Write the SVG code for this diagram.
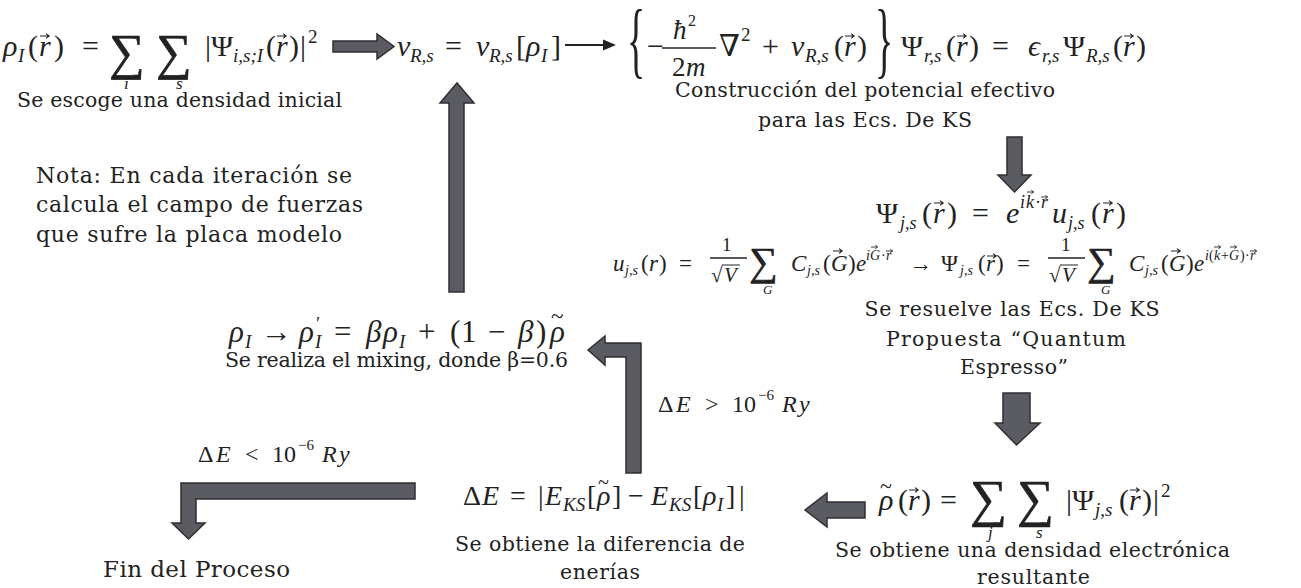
<svg xmlns="http://www.w3.org/2000/svg" xmlns:xlink="http://www.w3.org/1999/xlink" width="1301" height="588" viewBox="0 0 1301 588">
<style>
.m{font-family:"Liberation Serif","DejaVu Serif",serif;fill:#222;font-size:30px}
.i{font-style:italic}
.s{font-size:19px}
.sum{stroke:#222;stroke-width:0.6}
.t{font-family:"DejaVu Serif",serif;fill:#222;font-size:20.5px}
.arw{fill:#5b5b62;stroke:#2f2f34;stroke-width:1.5;stroke-linejoin:miter}
.thin{stroke:#222;stroke-width:2;fill:none}
.bar{stroke:#222;stroke-width:1.3}
</style>
<defs>
<path id="va" d="M0 0h9M6 -2.4L9.2 0L6 2.4" fill="none" stroke="#222" stroke-width="1.1"/>
<path id="vs" d="M0 0h6.5M4.3 -1.8L6.7 0L4.3 1.8" fill="none" stroke="#222" stroke-width="0.9"/>
</defs>
<rect width="1301" height="588" fill="#fff"/>

<g id="n-initial-density">
<text class="m">
<tspan class="i" x="3" y="56">ρ</tspan><tspan class="i s" x="18" y="62">I</tspan>
<tspan x="28" y="56">(</tspan><tspan class="i" x="39" y="56">r</tspan><tspan x="54" y="56">)</tspan>
<tspan x="82" y="56">=</tspan>
<tspan class="sum" x="109" y="69" style="font-size:50px">∑</tspan><tspan class="i" x="124" y="89" style="font-size:17px">i</tspan>
<tspan class="sum" x="156" y="69" style="font-size:50px">∑</tspan><tspan class="i" x="176" y="89" style="font-size:17px">s</tspan>
<tspan x="205" y="56">|</tspan><tspan x="211" y="56">Ψ</tspan><tspan class="i s" x="233" y="62">i,s;I</tspan>
<tspan x="266" y="56">(</tspan><tspan class="i" x="276" y="56">r</tspan><tspan x="289" y="56">)</tspan><tspan x="300" y="56">|</tspan><tspan class="s" x="308" y="43">2</tspan>
</text>
<use xlink:href="#va" x="40" y="36"/><use xlink:href="#va" x="277" y="36"/>
<text class="t" x="17" y="107" textLength="325">Se escoge una densidad inicial</text>
</g>

<g id="n-potential">
<text class="m">
<tspan class="i" x="397" y="56">v</tspan><tspan class="i s" x="410" y="62">R,s</tspan>
<tspan x="445" y="56">=</tspan>
<tspan class="i" x="476" y="56">v</tspan><tspan class="i s" x="489" y="62">R,s</tspan>
<tspan x="516" y="56">[</tspan><tspan class="i" x="526" y="56">ρ</tspan><tspan class="i s" x="541" y="62">I</tspan><tspan x="551" y="56">]</tspan>
</text>
</g>

<g id="n-ks-equation">
<text class="m" transform="translate(627,68) scale(1,2.2)" style="font-size:38px">{</text>
<text class="m">
<tspan x="647" y="56">−</tspan>
<tspan class="i" x="673" y="39" style="font-size:27px">ħ</tspan><tspan x="688" y="26" style="font-size:16px">2</tspan>
<tspan x="672" y="76" style="font-size:27px">2</tspan><tspan class="i" x="686" y="76" style="font-size:27px">m</tspan>
<tspan x="719" y="56">∇</tspan><tspan class="s" x="741" y="41">2</tspan>
<tspan x="762" y="56">+</tspan>
<tspan class="i" x="791" y="56">v</tspan><tspan class="i s" x="805" y="62">R,s</tspan>
<tspan x="834" y="56">(</tspan><tspan class="i" x="844" y="56">r</tspan><tspan x="857" y="56">)</tspan>
<tspan x="901" y="56">Ψ</tspan><tspan class="i s" x="924" y="62">r,s</tspan>
<tspan x="946" y="56">(</tspan><tspan class="i" x="956" y="56">r</tspan><tspan x="969" y="56">)</tspan>
<tspan x="992" y="56">=</tspan>
<tspan class="i" x="1028" y="56">ϵ</tspan><tspan class="i s" x="1042" y="62">r,s</tspan>
<tspan x="1063" y="56">Ψ</tspan><tspan class="i s" x="1086" y="62">R,s</tspan>
<tspan x="1113" y="56">(</tspan><tspan class="i" x="1123" y="56">r</tspan><tspan x="1136" y="56">)</tspan>
</text>
<line class="bar" x1="662" y1="48" x2="716" y2="48"/>
<text class="m" transform="translate(875,68) scale(1,2.2)" style="font-size:38px">}</text>
<use xlink:href="#va" x="845" y="36"/><use xlink:href="#va" x="957" y="36"/><use xlink:href="#va" x="1124" y="36"/>
<text class="t" x="675" y="97" textLength="380">Construcción del potencial efectivo</text>
<text class="t" x="758" y="127" textLength="214">para las Ecs. De KS</text>
</g>

<g id="n-note">
<text class="t" style="font-size:22px" x="36" y="183" textLength="316">Nota: En cada iteración se</text>
<text class="t" style="font-size:22px" x="36" y="212" textLength="327">calcula el campo de fuerzas</text>
<text class="t" style="font-size:22px" x="36" y="242" textLength="306">que sufre la placa modelo</text>
</g>

<g id="n-solve-ks">
<text class="m">
<tspan x="876" y="223">Ψ</tspan><tspan class="i" x="900" y="229" style="font-size:18px">j,s</tspan>
<tspan x="922" y="223">(</tspan><tspan class="i" x="933" y="223">r</tspan><tspan x="947" y="223">)</tspan>
<tspan x="972" y="223">=</tspan>
<tspan class="i" x="1006" y="223">e</tspan>
<tspan class="i" x="1020" y="208" style="font-size:18px">i</tspan><tspan class="i" x="1026" y="208" style="font-size:18px">k</tspan><tspan x="1035" y="208" style="font-size:18px">·</tspan><tspan class="i" x="1041" y="208" style="font-size:18px">r</tspan>
<tspan class="i" x="1052" y="223">u</tspan><tspan class="i" x="1068" y="229" style="font-size:18px">j,s</tspan>
<tspan x="1091" y="223">(</tspan><tspan class="i" x="1102" y="223">r</tspan><tspan x="1116" y="223">)</tspan>
</text>
<use xlink:href="#vs" x="1027" y="192"/><use xlink:href="#vs" x="1041" y="197"/>
<use xlink:href="#va" x="934" y="203"/><use xlink:href="#va" x="1103" y="203"/>
<text class="m" style="font-size:23px">
<tspan class="i" x="613" y="271">u</tspan><tspan class="i" x="625" y="275" style="font-size:14px">j,s</tspan>
<tspan x="641" y="271">(</tspan><tspan class="i" x="649" y="271">r</tspan><tspan x="659" y="271">)</tspan>
<tspan x="679" y="271">=</tspan>
<tspan x="722" y="251" style="font-size:19px">1</tspan>
<tspan x="711" y="282" style="font-size:21px">√</tspan><tspan class="i" x="724" y="282" style="font-size:21px">V</tspan>
<tspan class="sum" x="749" y="275" style="font-size:40px">∑</tspan><tspan class="i" x="763" y="294" style="font-size:13px">G</tspan>
<tspan class="i" x="791" y="271">C</tspan><tspan class="i" x="807" y="275" style="font-size:14px">j,s</tspan>
<tspan x="823" y="271">(</tspan><tspan class="i" x="831" y="271">G</tspan><tspan x="848" y="271">)</tspan>
<tspan class="i" x="856" y="271">e</tspan>
<tspan class="i" x="866" y="260" style="font-size:14px">i</tspan><tspan class="i" x="870" y="260" style="font-size:14px">G</tspan><tspan x="881" y="260" style="font-size:14px">·</tspan><tspan class="i" x="886" y="260" style="font-size:14px">r</tspan>
<tspan x="909" y="271">→</tspan>
<tspan x="941" y="271">Ψ</tspan><tspan class="i" x="960" y="275" style="font-size:14px">j,s</tspan>
<tspan x="978" y="271">(</tspan><tspan class="i" x="986" y="271">r</tspan><tspan x="996" y="271">)</tspan>
<tspan x="1017" y="271">=</tspan>
<tspan x="1061" y="251" style="font-size:19px">1</tspan>
<tspan x="1049" y="282" style="font-size:21px">√</tspan><tspan class="i" x="1062" y="282" style="font-size:21px">V</tspan>
<tspan class="sum" x="1087" y="275" style="font-size:40px">∑</tspan><tspan class="i" x="1101" y="294" style="font-size:13px">G</tspan>
<tspan class="i" x="1129" y="271">C</tspan><tspan class="i" x="1145" y="275" style="font-size:14px">j,s</tspan>
<tspan x="1161" y="271">(</tspan><tspan class="i" x="1169" y="271">G</tspan><tspan x="1186" y="271">)</tspan>
<tspan class="i" x="1194" y="271">e</tspan>
<tspan class="i" x="1205" y="260" style="font-size:14px">i</tspan><tspan x="1209" y="260" style="font-size:14px">(</tspan><tspan class="i" x="1214" y="260" style="font-size:14px">k</tspan><tspan x="1221" y="260" style="font-size:14px">+</tspan><tspan class="i" x="1229" y="260" style="font-size:14px">G</tspan><tspan x="1240" y="260" style="font-size:14px">)</tspan><tspan x="1245" y="260" style="font-size:14px">·</tspan><tspan class="i" x="1250" y="260" style="font-size:14px">r</tspan>
</text>
<line class="bar" x1="710" y1="258" x2="747" y2="258"/>
<line class="bar" x1="1048" y1="258" x2="1085" y2="258"/>
<line class="bar" x1="722" y1="265" x2="740" y2="265" style="stroke-width:1"/>
<line class="bar" x1="1060" y1="265" x2="1078" y2="265" style="stroke-width:1"/>
<use xlink:href="#vs" x="764" y="282"/><use xlink:href="#va" x="833" y="251"/><use xlink:href="#vs" x="871" y="247"/><use xlink:href="#vs" x="886" y="251"/>
<use xlink:href="#va" x="987" y="256"/>
<use xlink:href="#vs" x="1102" y="282"/><use xlink:href="#va" x="1171" y="251"/><use xlink:href="#vs" x="1214" y="247"/><use xlink:href="#vs" x="1230" y="247"/><use xlink:href="#vs" x="1250" y="251"/>
<text class="t" x="1012" y="316" text-anchor="middle" textLength="295">Se resuelve las Ecs. De KS</text>
<text class="t" x="1006" y="346" text-anchor="middle" textLength="240">Propuesta “Quantum</text>
<text class="t" x="1014" y="374" text-anchor="middle" textLength="108">Espresso”</text>
</g>

<g id="n-new-density">
<text class="m">
<tspan class="i" x="879" y="510">ρ</tspan><tspan x="880" y="493" style="font-size:22px">~</tspan>
<tspan x="898" y="510">(</tspan><tspan class="i" x="908" y="510">r</tspan><tspan x="921" y="510">)</tspan>
<tspan x="940" y="510">=</tspan>
<tspan class="sum" x="970" y="516" style="font-size:52px">∑</tspan><tspan class="i" x="988" y="538" style="font-size:17px">j</tspan>
<tspan class="sum" x="1017" y="516" style="font-size:52px">∑</tspan><tspan class="i" x="1036" y="538" style="font-size:17px">s</tspan>
<tspan x="1066" y="510">|</tspan><tspan x="1072" y="510">Ψ</tspan><tspan class="i s" x="1095" y="516">j,s</tspan>
<tspan x="1119" y="510">(</tspan><tspan class="i" x="1129" y="510">r</tspan><tspan x="1142" y="510">)</tspan><tspan x="1153" y="510">|</tspan><tspan class="s" x="1161" y="497">2</tspan>
</text>
<use xlink:href="#va" x="909" y="490"/><use xlink:href="#va" x="1130" y="490"/>
<text class="t" x="835" y="557" textLength="395">Se obtiene una densidad electrónica</text>
<text class="t" x="977" y="584" textLength="113">resultante</text>
</g>

<g id="n-energy-diff">
<text class="m" style="font-size:28px">
<tspan x="463" y="505">Δ</tspan><tspan class="i" x="482" y="505">E</tspan>
<tspan x="510" y="505">=</tspan>
<tspan x="538" y="505">|</tspan><tspan class="i" x="545" y="505">E</tspan><tspan class="i" x="563" y="511" style="font-size:19px">KS</tspan>
<tspan x="587" y="505">[</tspan><tspan class="i" x="597" y="505">ρ</tspan><tspan x="598" y="489" style="font-size:20px">~</tspan><tspan x="612" y="505">]</tspan>
<tspan x="628" y="505">−</tspan>
<tspan class="i" x="651" y="505">E</tspan><tspan class="i" x="669" y="511" style="font-size:19px">KS</tspan>
<tspan x="693" y="505">[</tspan><tspan class="i" x="703" y="505">ρ</tspan><tspan class="i s" x="717" y="511">I</tspan><tspan x="726" y="505">]</tspan><tspan x="739" y="505">|</tspan>
</text>
<text class="t" x="455" y="551" textLength="290">Se obtiene la diferencia de</text>
<text class="t" x="560" y="579" textLength="80">enerías</text>
</g>

<g id="n-mixing">
<text class="m" style="font-size:31px">
<tspan class="i" x="229" y="342">ρ</tspan><tspan class="i s" x="245" y="348">I</tspan>
<tspan x="261" y="342">→</tspan>
<tspan class="i" x="299" y="342">ρ</tspan><tspan class="s" x="316" y="330">′</tspan><tspan class="i s" x="315" y="348">I</tspan>
<tspan x="334" y="342">=</tspan>
<tspan class="i" x="366" y="342">β</tspan><tspan class="i" x="383" y="342">ρ</tspan><tspan class="i s" x="399" y="348">I</tspan>
<tspan x="418" y="342">+</tspan>
<tspan x="450" y="342">(</tspan><tspan x="461" y="342">1</tspan>
<tspan x="488" y="342">−</tspan>
<tspan class="i" x="518" y="342">β</tspan><tspan x="536" y="342">)</tspan>
<tspan class="i" x="550" y="342">ρ</tspan><tspan x="551" y="324" style="font-size:23px">~</tspan>
</text>
<text class="t" x="225" y="367" textLength="343">Se realiza el mixing, donde β=0.6</text>
</g>

<g id="n-end">
<text class="t" style="font-size:23px" x="103" y="577" textLength="187">Fin del Proceso</text>
</g>

<g id="connectors">
<polygon class="arw" points="333,41 377,41 377,34 394,46.5 377,59 377,52 333,52"/>
<line class="thin" x1="565" y1="45" x2="605" y2="45"/>
<polygon points="616,45 603,39.5 603,50.5" fill="#222"/>
<polygon class="arw" points="1007,137 1022,137 1022,175 1031,175 1014.5,192 998,175 1007,175"/>
<polygon class="arw" points="1003,393 1030,393 1030,423 1040,423 1016.5,445 995,423 1003,423"/>
<polygon class="arw" points="865,502 865,518 827,518 827,527 805,510 827,493 827,502"/>
<polygon class="arw" points="641,343 641,473 626,473 626,357 605,357 605,365 588,350 605,336 605,343"/>
<polygon class="arw" points="449,292 449,103 440,103 457,83 474,103 464,103 464,292"/>
<polygon class="arw" points="415,483 415,499 196,499 196,523 205,523 188.5,539 172,523 181,523 181,483"/>
<text class="m" style="font-size:24px">
<tspan x="198" y="462">Δ</tspan><tspan class="i" x="216" y="462">E</tspan>
<tspan x="245" y="462">&lt;</tspan><tspan x="272" y="462">10</tspan><tspan x="298" y="450" style="font-size:15px">−6</tspan>
<tspan class="i" x="322" y="462">R</tspan><tspan class="i" x="339" y="462">y</tspan>
</text>
<text class="m" style="font-size:24px">
<tspan x="658" y="412">Δ</tspan><tspan class="i" x="676" y="412">E</tspan>
<tspan x="705" y="412">&gt;</tspan><tspan x="732" y="412">10</tspan><tspan x="758" y="400" style="font-size:15px">−6</tspan>
<tspan class="i" x="782" y="412">R</tspan><tspan class="i" x="799" y="412">y</tspan>
</text>
</g>
</svg>
